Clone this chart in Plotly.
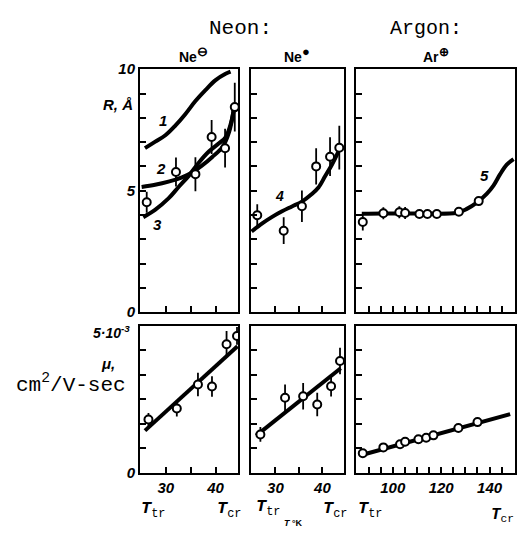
import plotly.graph_objects as go
from plotly.subplots import make_subplots

# ---------------- data (T in K) ----------------
# Ne(-): radius R (Angstrom)
neneg_T = [26.15, 32.03, 35.94, 39.2, 41.9, 43.85]
neneg_R = [4.52, 5.77, 5.68, 7.21, 6.75, 8.44]
neneg_Rerr = [0.43, 0.6, 0.7, 0.7, 0.8, 1.0]
curve1_T = [25.8, 27.8, 29.9, 31.9, 33.9, 35.9, 38.0, 40.0, 42.0, 43.0]
curve1_R = [6.75, 7.01, 7.28, 7.68, 8.15, 8.68, 9.15, 9.55, 9.81, 9.9]
curve2_T = [25.13, 27.83, 30.53, 33.25, 35.27, 37.30, 39.33, 41.36, 42.70, 43.71]
curve2_R = [5.15, 5.24, 5.37, 5.55, 5.75, 6.04, 6.39, 6.79, 7.41, 8.41]
curve3_T = [25.46, 27.83, 30.53, 32.56, 34.59, 36.61, 38.64, 40.67, 42.03, 43.04, 43.71]
curve3_R = [3.91, 4.21, 4.68, 5.15, 5.61, 6.15, 6.61, 6.95, 7.21, 7.75, 8.41]

# Ne(+): radius
nepos_T = [26.13, 31.76, 35.64, 38.67, 41.63, 43.6]
nepos_R = [3.99, 3.35, 4.36, 6.0, 6.4, 6.77]
nepos_Rerr = [0.45, 0.55, 0.65, 0.75, 0.8, 0.9]
curve4_T = [24.93, 27.19, 29.30, 31.41, 33.52, 35.64, 37.75, 39.16, 40.57, 41.99, 43.38]
curve4_R = [3.32, 3.65, 3.92, 4.15, 4.35, 4.55, 4.86, 5.13, 5.59, 6.06, 6.60]

# Ar(+): radius
arpos_T = [87.6, 96.1, 102.7, 105.1, 111.0, 114.3, 118.2, 127.3, 135.5]
arpos_R = [3.71, 4.07, 4.11, 4.08, 4.04, 4.04, 4.04, 4.13, 4.57]
arpos_Rerr = [0.35, 0.25, 0.25, 0.25, 0, 0, 0, 0, 0]
curve5_T = [87.2, 96.1, 109.9, 126.4, 130.6, 134.7, 138.8, 141.6, 144.3, 147.1, 149.9]
curve5_R = [4.05, 4.06, 4.06, 4.09, 4.25, 4.51, 4.87, 5.21, 5.67, 6.07, 6.3]

# Mobility (units of 1e-3 cm^2/V-sec)
neneg_muT = [26.5, 32.2, 36.45, 39.27, 42.2, 44.3]
neneg_mu = [1.81, 2.18, 3.0, 2.93, 4.37, 4.65]
neneg_muerr = [0.22, 0.27, 0.4, 0.35, 0.45, 0.3]
neneg_fitT = [25.8, 44.4]
neneg_fit = [1.43, 4.3]

nepos_muT = [26.8, 32.05, 35.9, 38.9, 41.85, 43.75]
nepos_mu = [1.30, 2.55, 2.6, 2.32, 2.94, 3.8]
nepos_muerr = [0.25, 0.45, 0.45, 0.4, 0.35, 0.45]
nepos_fitT = [25.9, 43.9]
nepos_fit = [1.26, 3.55]

arpos_muT = [87.6, 96.1, 103.0, 105.1, 110.6, 113.8, 116.8, 127.1, 135.0]
arpos_mu = [0.66, 0.86, 0.97, 1.05, 1.14, 1.19, 1.27, 1.52, 1.72]
arpos_fitT = [87.9, 148.5]
arpos_fit = [0.62, 1.99]

# ticks
ne_xticks = [30, 35, 40]
ne_xlabels = ["30", "", "40"]
ar_xticks = [90, 95, 100, 105, 110, 115, 120, 125, 130, 135, 140, 145]
ar_xlabels = ["", "", "100", "", "", "", "120", "", "", "", "140", ""]
r_ticks = list(range(0, 11))
r_labels = ["0", "", "", "", "", "5", "", "", "", "", "10"]
mu_ticks = [0, 5 / 6, 10 / 6, 15 / 6, 20 / 6, 25 / 6, 5]
mu_labels = ["0", "", "", "", "", "", ""]

# ---------------- figure ----------------
fig = make_subplots(rows=2, cols=3)

NARROW = "Liberation Sans Narrow, Liberation Sans, Arial"
MONO = "Liberation Mono, Courier New, monospace"

def curve(T, v, r, c):
    fig.add_trace(go.Scatter(x=T, y=v, mode="lines", line=dict(color="black", width=4, shape="spline", smoothing=1.0),
                             hoverinfo="skip"), row=r, col=c)

def pts(T, v, err, r, c):
    fig.add_trace(go.Scatter(x=T, y=v, mode="markers",
                             marker=dict(symbol="circle", size=8, color="white", line=dict(color="black", width=2)),
                             error_y=dict(type="data", array=err, visible=True, color="black", thickness=1.8, width=0)
                             if err is not None else None),
                  row=r, col=c)

curve(curve1_T, curve1_R, 1, 1)
curve(curve2_T, curve2_R, 1, 1)
curve(curve3_T, curve3_R, 1, 1)
pts(neneg_T, neneg_R, neneg_Rerr, 1, 1)
curve(curve4_T, curve4_R, 1, 2)
pts(nepos_T, nepos_R, nepos_Rerr, 1, 2)
curve(curve5_T, curve5_R, 1, 3)
pts(arpos_T, arpos_R, arpos_Rerr, 1, 3)
curve(neneg_fitT, neneg_fit, 2, 1)
pts(neneg_muT, neneg_mu, neneg_muerr, 2, 1)
curve(nepos_fitT, nepos_fit, 2, 2)
pts(nepos_muT, nepos_mu, nepos_muerr, 2, 2)
curve(arpos_fitT, arpos_fit, 2, 3)
pts(arpos_muT, arpos_mu, None, 2, 3)

# the page body has an 8px margin: keep the figure inside the 525x539 window
OFF = 8
W, H = 525 - 2 * OFF, 539 - 2 * OFF

def fx(x):
    return (x - OFF) / W

def fy(y):
    return 1 - (y - OFF) / H

xdom = [(fx(140), fx(238)), (fx(251), fx(344)), (fx(356), fx(515))]
ytop = (fy(313), fy(62))
ybot = (fy(479), fy(327))

tickfont = dict(family=NARROW, size=15, color="black", weight="bold", style="italic")
axis_common = dict(showline=True, linecolor="black", linewidth=2, mirror=True, ticks="inside",
                   ticklen=6, tickwidth=1.5, tickcolor="black", showgrid=False, zeroline=False,
                   tickfont=tickfont)

xranges = [[24.8, 44.5], [24.8, 44.6], [84.8, 150.5]]
for i in range(6):
    r = i // 3
    c = i % 3
    xa = "xaxis" if i == 0 else f"xaxis{i+1}"
    ya = "yaxis" if i == 0 else f"yaxis{i+1}"
    if c < 2:
        xt, xl = ne_xticks, ne_xlabels
    else:
        xt, xl = ar_xticks, ar_xlabels
    fig.layout[xa].update(domain=xdom[c], range=xranges[c], tickvals=xt,
                          ticktext=xl if r == 1 else [""] * len(xt), **axis_common)
    if r == 0:
        fig.layout[ya].update(domain=ytop, range=[0, 10], tickvals=r_ticks,
                              ticktext=r_labels if c == 0 else [""] * len(r_ticks), **axis_common)
    else:
        fig.layout[ya].update(domain=ybot, range=[0, 5], tickvals=mu_ticks,
                              ticktext=mu_labels if c == 0 else [""] * len(mu_ticks), **axis_common)

ann = []
def txt(x, y, s, size=15, family=NARROW, bold=True, italic=True, xanchor="center", yanchor="middle"):
    ann.append(dict(x=fx(x), y=fy(y), xref="paper", yref="paper", text=s, showarrow=False,
                    xanchor=xanchor, yanchor=yanchor,
                    font=dict(family=family, size=size, color="black",
                              weight="bold" if bold else "normal",
                              style="italic" if italic else "normal")))

txt(240, 20, "Neon:", size=21, family=MONO, bold=False, italic=False)
txt(426, 20, "Argon:", size=20, family=MONO, bold=False, italic=False)
txt(193, 47, "Ne<sup><span style='font-size:13px'>⊖</span></sup>", size=14, italic=False)
txt(297, 47, "Ne<sup><span style='font-size:13px'>●</span></sup>", size=14, italic=False)
txt(436, 47, "Ar<sup><span style='font-size:12px'>⊕</span></sup>", size=14, italic=False)
txt(118, 98, "R, Å", size=15)
txt(111, 334, "5·10<sup>-3</sup>", size=14)
txt(108, 366, "μ,", size=15)
txt(71, 387, "cm<sup>2</sup>/V-sec", size=21, family=MONO, bold=False, italic=False)
# curve numbers
txt(163, 115, "1", size=15)
txt(161, 165, "2", size=15)
txt(157, 222, "3", size=15)
txt(279, 193, "4", size=14)
txt(484, 172, "5", size=15)
# temperature labels
Tlab = "<b><i>T</i></b><sub>tr</sub>"
Tcr = "<b><i>T</i></b><sub>cr</sub>"
txt(153, 518, Tlab, size=17, family=MONO, bold=False, italic=False)
txt(229, 518, Tcr, size=17, family=MONO, bold=False, italic=False)
txt(268, 516, Tlab, size=17, family=MONO, bold=False, italic=False)
txt(293, 531, "<i>T</i> °K", size=9, bold=True, italic=False)
txt(335, 518, Tcr, size=17, family=MONO, bold=False, italic=False)
txt(370, 518, Tlab, size=17, family=MONO, bold=False, italic=False)
txt(516, 523, Tcr, size=16, family=MONO, bold=False, italic=False, xanchor="right")

fig.update_layout(width=W, height=H, margin=dict(l=0, r=0, t=0, b=0), showlegend=False,
                  plot_bgcolor="white", paper_bgcolor="white", annotations=ann)

fig.write_html("out.html")
